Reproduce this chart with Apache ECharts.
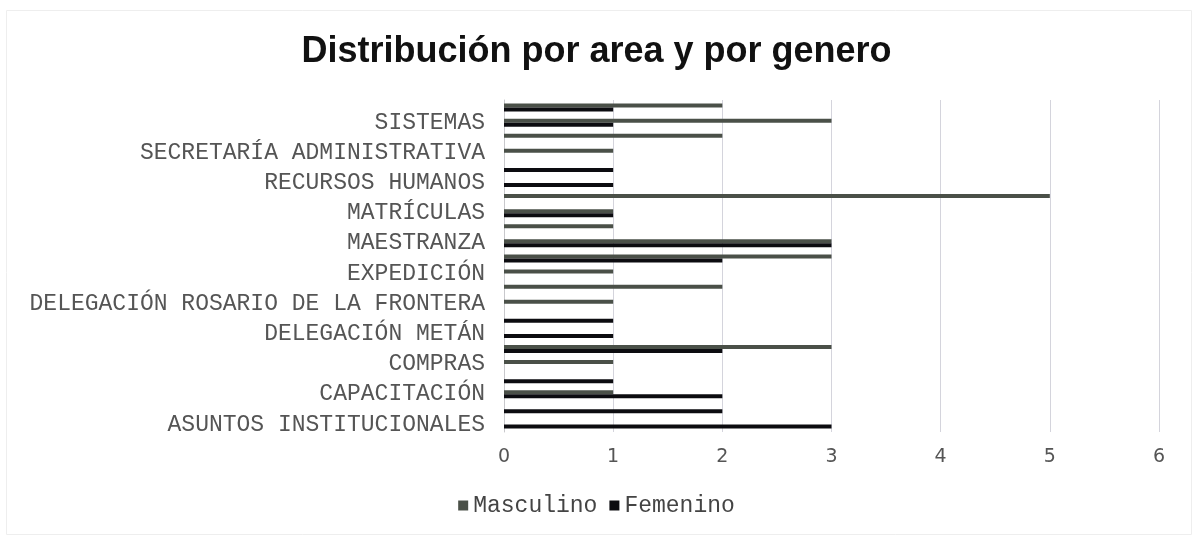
<!DOCTYPE html>
<html>
<head>
<meta charset="utf-8">
<script src="https://cdn.jsdelivr.net/npm/echarts@6/dist/echarts.min.js"></script>
<style>html,body{margin:0;padding:0;background:#fff;}#c{width:1193px;height:540px;}</style>
</head>
<body>
<div id="c"></div>
<script>
const categories = [
  "ASUNTOS INSTITUCIONALES", "BIBLIOTECA", "CAPACITACIÓN", "CERTIFICACIONES",
  "COMPRAS", "CONTABLE", "DELEGACIÓN METÁN", "DELEGACIÓN ORÁN",
  "DELEGACIÓN ROSARIO DE LA FRONTERA", "DELEGACIÓN TARTAGAL", "EXPEDICIÓN", "LEGALES",
  "MAESTRANZA", "MANTENIMIENTO", "MATRÍCULAS", "MESA DE ENTRADAS",
  "RECURSOS HUMANOS", "SALUD", "SECRETARÍA ADMINISTRATIVA", "SECRETARÍA GENERAL",
  "SISTEMAS", "TESORERÍA"
];
const masculino = [0, 0, 1, 0, 1, 3, 0, 0, 1, 2, 1, 3, 3, 1, 1, 5, 0, 0, 1, 2, 3, 2];
const femenino  = [3, 2, 2, 1, 0, 2, 1, 1, 0, 0, 0, 2, 3, 0, 1, 0, 1, 1, 0, 0, 1, 1];
const xTicks = [0, 1, 2, 3, 4, 5, 6];

const mono = "'Liberation Mono', 'DejaVu Sans Mono', monospace";
const chart = echarts.init(document.getElementById('c'));
chart.setOption({
  backgroundColor: '#fff',
  animation: false,
  graphic: [{
    type: 'rect', left: 4, top: 8, silent: true,
    shape: { width: 1185, height: 524 },
    style: { fill: 'none', stroke: '#eeeeee', lineWidth: 1 }
  }],
  title: {
    text: 'Distribución por area y por genero',
    left: 'center', top: 29,
    textStyle: { fontFamily: "'Liberation Sans', Arial, sans-serif", fontWeight: 'bold', fontSize: 36, color: '#111' }
  },
  legend: {
    data: ['Masculino', 'Femenino'],
    bottom: 18, left: 'center',
    itemWidth: 10, itemHeight: 10, itemGap: 12,
    icon: 'rect',
    textStyle: { fontFamily: mono, fontSize: 23, color: '#444' }
  },
  grid: { left: 504, right: 34, top: 100, bottom: 108, containLabel: false },
  xAxis: {
    type: 'value', min: 0, max: 6, interval: 1,
    axisLine: { show: false }, axisTick: { show: false },
    splitLine: { lineStyle: { color: '#d4d4dc', width: 1 } },
    axisLabel: { fontFamily: "'DejaVu Sans', sans-serif", fontSize: 19, color: '#555', margin: 16,
      formatter: v => xTicks.includes(v) ? String(v) : '' }
  },
  yAxis: {
    type: 'category', data: categories,
    axisLine: { show: true, lineStyle: { color: '#c8c8cc' } },
    axisTick: { show: false },
    axisLabel: { interval: 1, fontFamily: mono, fontSize: 23, color: '#555', margin: 19 }
  },
  series: [
    { name: 'Masculino', type: 'bar', data: masculino, barWidth: 4, barGap: '0%',
      itemStyle: { color: '#4a5048' } },
    { name: 'Femenino', type: 'bar', data: femenino, barWidth: 4, barGap: '0%',
      itemStyle: { color: '#0c0c10' } }
  ]
});
</script>
</body>
</html>
